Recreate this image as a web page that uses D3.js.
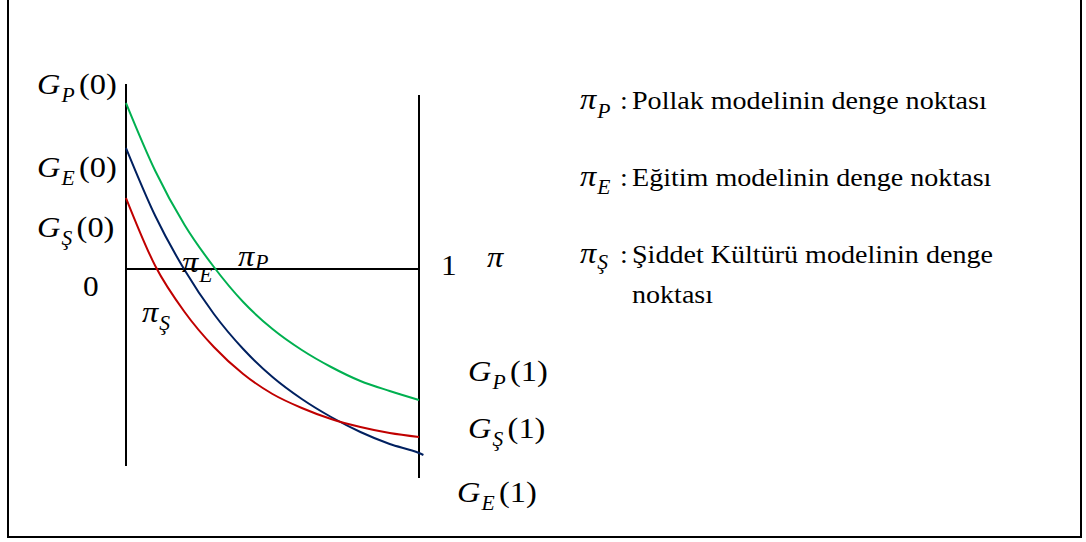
<!DOCTYPE html>
<html>
<head>
<meta charset="utf-8">
<script src="https://cdn.jsdelivr.net/npm/d3@7"></script>
<style>
  body { margin: 0; background: #fff; }
  svg { display: block; }
</style>
</head>
<body>
<div id="chart"></div>
<script>
// share of the population (pi) on the x axis, 0..1
const tValues = [0, 0.1, 0.2, 0.3, 0.4, 0.5, 0.6, 0.7, 0.8, 0.9, 1];
const tValuesE = [0, 0.1, 0.2, 0.3, 0.4, 0.5, 0.6, 0.7, 0.8, 0.9, 1, 1.015];

// G curves (1 unit = 100px above/below the pi axis)
const gPollak = [1.66, 0.98, 0.44, 0.02, -0.33, -0.60, -0.81, -0.98, -1.12, -1.22, -1.31];
const gEgitim = [1.21, 0.53, -0.01, -0.45, -0.80, -1.08, -1.30, -1.48, -1.63, -1.75, -1.84, -1.86];
const gSiddet = [0.71, 0.03, -0.43, -0.78, -1.05, -1.25, -1.39, -1.50, -1.58, -1.64, -1.68];

const seriesNames = ["P", "E", "Ş"];
const seriesColors = ["#00b050", "#002060", "#c00000"];

const legendTexts = [
  ["Pollak modelinin denge noktası"],
  ["Eğitim modelinin denge noktası"],
  ["Şiddet Kültürü modelinin denge", "noktası"]
];

const SERIF = "'Liberation Serif', 'Times New Roman', serif";
const SX = 1.08; // the source picture is a little stretched sideways

const W = 1086, H = 542;
const svg = d3.select("#chart").append("svg").attr("width", W).attr("height", H);

// frame
svg.append("rect")
  .attr("x", 8).attr("y", -4)
  .attr("width", 1073).attr("height", 541)
  .attr("fill", "none").attr("stroke", "#000").attr("stroke-width", 2);

const x = d3.scaleLinear().domain([0, 1]).range([126, 419]);
const y = d3.scaleLinear().domain([0, 1]).range([269, 169]);

// axes
svg.append("line")
  .attr("x1", x(0)).attr("x2", x(0))
  .attr("y1", y(1.85)).attr("y2", y(-1.97))
  .attr("stroke", "#000").attr("stroke-width", 2);
svg.append("line")
  .attr("x1", x(1)).attr("x2", x(1))
  .attr("y1", y(1.74)).attr("y2", y(-2.09))
  .attr("stroke", "#000").attr("stroke-width", 2);
svg.append("line")
  .attr("x1", x(0)).attr("x2", x(1))
  .attr("y1", y(0)).attr("y2", y(0))
  .attr("stroke", "#000").attr("stroke-width", 2);

// curves
const line = d3.line()
  .x(d => x(d[0]))
  .y(d => y(d[1]))
  .curve(d3.curveMonotoneX);

const curves = [
  { t: tValues, g: gPollak, color: seriesColors[0] },
  { t: tValuesE, g: gEgitim, color: seriesColors[1] },
  { t: tValues, g: gSiddet, color: seriesColors[2] }
];

curves.forEach(c => {
  svg.append("path")
    .datum(c.t.map((t, i) => [t, c.g[i]]))
    .attr("fill", "none")
    .attr("stroke", c.color)
    .attr("stroke-width", 2)
    .attr("d", line);
});

// label helper: base letter with an italic subscript, then optional tail like "(0)"
function mathLabel(px, py, base, sub, tail, size, subDy, tailDx) {
  const t = svg.append("text")
    .attr("transform", `translate(${px},${py}) scale(${SX},1)`)
    .style("font-family", SERIF)
    .style("font-size", size + "px")
    .attr("fill", "#000");
  t.append("tspan").style("font-style", "italic").text(base);
  t.append("tspan")
    .style("font-style", "italic")
    .style("font-size", Math.round(size * 0.66) + "px")
    .attr("dx", 1)
    .attr("dy", subDy)
    .text(sub);
  if (tail) {
    t.append("tspan").attr("dx", tailDx).attr("dy", -subDy).text(tail);
  }
  return t;
}

function plainText(px, py, str, size, italic) {
  return svg.append("text")
    .attr("transform", `translate(${px},${py}) scale(${SX},1)`)
    .style("font-family", SERIF)
    .style("font-size", size + "px")
    .style("font-style", italic ? "italic" : "normal")
    .attr("fill", "#000")
    .text(str);
}

// G(0) labels on the left axis
const leftBaselines = [94, 177, 237];
seriesNames.forEach((s, i) => mathLabel(37, leftBaselines[i], "G", s, "(0)", 30, 8, 4));

// G(1) labels right of the right axis
mathLabel(x(1) + 49, 381, "G", "P", "(1)", 30, 8, 4);
mathLabel(x(1) + 49, 438, "G", "Ş", "(1)", 30, 8, 4);
mathLabel(x(1) + 38, 502, "G", "E", "(1)", 30, 8, 4);

// axis numbers
plainText(x(0) - 43, y(0) + 27, "0", 29, false);
plainText(x(1) + 22, y(0) + 6, "1", 29, false);
plainText(x(1) + 68, y(0) - 2, "π", 30, true);

// equilibrium points
mathLabel(238, 266, "π", "P", null, 30, 3, 0);
mathLabel(182, 272, "π", "E", null, 30, 10, 0);
mathLabel(142, 322, "π", "Ş", null, 30, 8, 0);

// legend
const legendBaselines = [109, 186, 263];
const legendSubDy = [9, 8, 6];
seriesNames.forEach((s, i) => {
  mathLabel(580, legendBaselines[i], "π", s, null, 30, legendSubDy[i], 0);
  plainText(620, legendBaselines[i], ":", 26, false);
  legendTexts[i].forEach((str, j) => {
    plainText(632, legendBaselines[i] + j * 40, str, 26, false);
  });
});
</script>
</body>
</html>
